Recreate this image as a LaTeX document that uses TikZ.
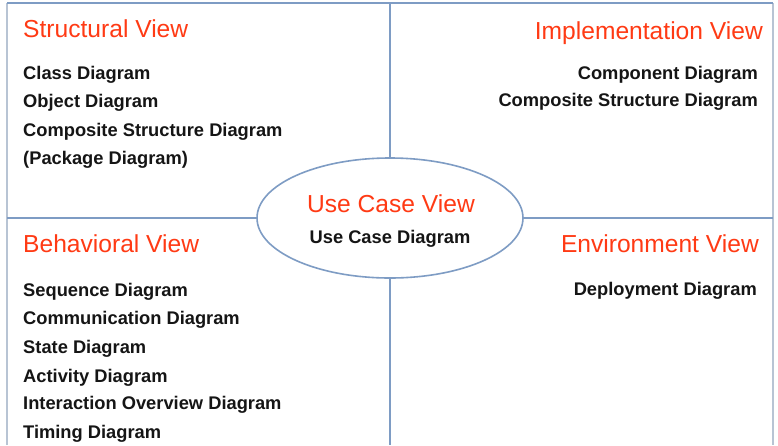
\documentclass[tikz,border=0pt]{standalone}
\usepackage{fontspec}
\setmainfont{Liberation Sans}
\usetikzlibrary{shapes.geometric}
\definecolor{frameblue}{HTML}{7E9CC4}
\definecolor{edgegray}{HTML}{B8C4D4}
\definecolor{viewred}{HTML}{FF3A14}
\definecolor{itemblack}{HTML}{151515}
\begin{document}
\begin{tikzpicture}[x=1pt,y=-1pt,
  viewtitle/.style={inner sep=0pt,text=viewred,font=\fontsize{24.6}{29}\selectfont},
  item/.style={inner sep=0pt,text=itemblack,font=\bfseries\fontsize{18.3}{22}\selectfont},
  divider/.style={draw=frameblue,line width=1.6pt},
  outer/.style={draw=edgegray,line width=1.2pt}]
\useasboundingbox (0,0) rectangle (778,445);
\fill[white] (0,0) rectangle (778,445);

% outer frame (open at the bottom)
\coordinate (bl) at (7,445);
\coordinate (tl) at (7,3);
\coordinate (tr) at (773,3);
\coordinate (br) at (773,445);
\draw[outer] (bl) -- (tl);
\draw[outer] (tr) -- (br);
\draw[divider,line width=1.3pt] (tl) -- (tr);

% quadrant dividers
\coordinate (vtop) at (390,3);
\coordinate (vbot) at (390,445);
\coordinate (hleft) at (7,218);
\coordinate (hright) at (773,218);
\draw[divider] (vtop) -- (vbot);
\draw[divider] (hleft) -- (hright);

% central use case view
\node[ellipse,draw=frameblue,line width=1.6pt,fill=white,minimum width=266pt,minimum height=120pt,inner sep=0pt] (usecase) at (390,218) {};
\node[viewtitle,anchor=base] (ucTitle) at (391,212) {Use Case View};
\node[item,anchor=base] (ucDiag) at (390,243) {Use Case Diagram};

% structural view
\node[viewtitle,anchor=base west] (stTitle) at (23,37) {Structural View};
\node[item,anchor=base west] (st1) at (23,79) {Class Diagram};
\node[item,anchor=base west] (st2) at (23,107) {Object Diagram};
\node[item,anchor=base west] (st3) at (23,136) {Composite Structure Diagram};
\node[item,anchor=base west] (st4) at (23,164) {(Package Diagram)};

% implementation view
\node[viewtitle,anchor=base east] (imTitle) at (763,39) {Implementation View};
\node[item,anchor=base east] (im1) at (758,79) {Component Diagram};
\node[item,anchor=base east] (im2) at (758,106) {Composite Structure Diagram};

% behavioral view
\node[viewtitle,anchor=base west] (bhTitle) at (23,252) {Behavioral View};
\node[item,anchor=base west] (bh1) at (23,296) {Sequence Diagram};
\node[item,anchor=base west] (bh2) at (23,324) {Communication Diagram};
\node[item,anchor=base west] (bh3) at (23,353) {State Diagram};
\node[item,anchor=base west] (bh4) at (23,382) {Activity Diagram};
\node[item,anchor=base west] (bh5) at (23,409) {Interaction Overview Diagram};
\node[item,anchor=base west] (bh6) at (23,438) {Timing Diagram};

% environment view
\node[viewtitle,anchor=base east] (enTitle) at (759,252) {Environment View};
\node[item,anchor=base east] (en1) at (757,295) {Deployment Diagram};
\end{tikzpicture}
\end{document}
